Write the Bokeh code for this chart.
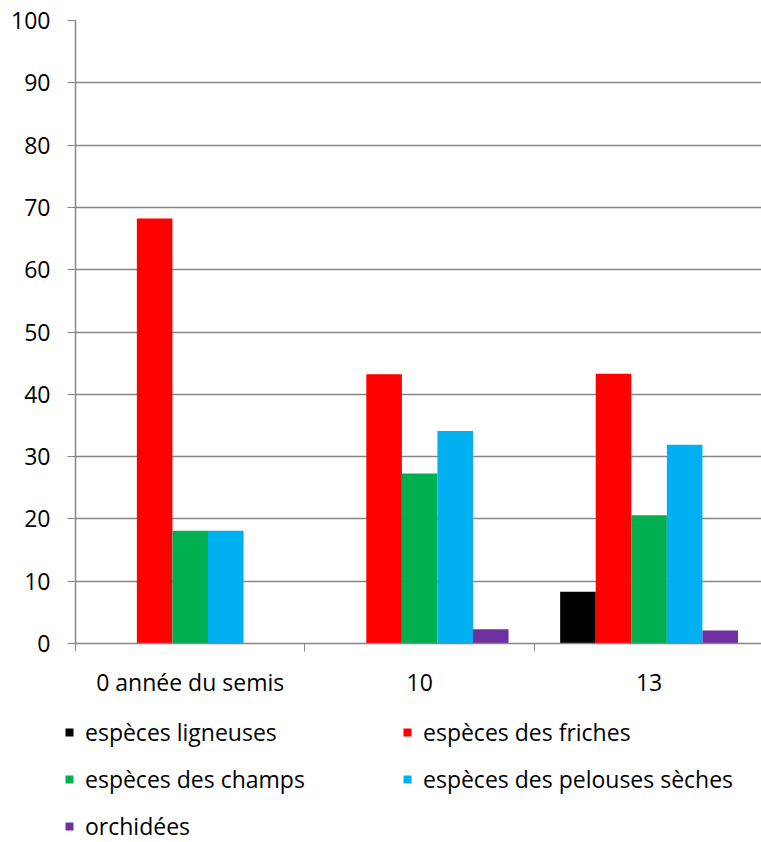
from bokeh.plotting import figure
from bokeh.models import ColumnDataSource, FixedTicker, Legend, LegendItem, Range1d
from bokeh.transform import dodge
from bokeh.embed import file_html
from bokeh.resources import INLINE

categories = ["0 année du semis", "10", "13"]
series_names = ["espèces ligneuses", "espèces des friches", "espèces des champs",
                "espèces des pelouses sèches", "orchidées"]
ligneuses = [0, 0, 8.3]
friches = [68.2, 43.2, 43.3]
champs = [18.1, 27.3, 20.6]
pelouses = [18.1, 34.1, 31.9]
orchidees = [0, 2.3, 2.1]
colors = ["#000000", "#FF0000", "#00B050", "#00B0F0", "#7030A0"]
y_ticks = list(range(0, 101, 10))

FONT = "Open Sans"
FS = "23px"

cat_pos = [i + 0.5 for i in range(len(categories))]
src = ColumnDataSource(dict(x=cat_pos, lig=ligneuses, fri=friches, cha=champs,
                            pel=pelouses, orc=orchidees))
fields = ["lig", "fri", "cha", "pel", "orc"]

p = figure(width=761, height=700, output_backend="svg", toolbar_location=None,
           x_range=Range1d(0, 2.99), y_range=Range1d(0, 100),
           min_border_left=75, min_border_right=0, min_border_top=20, min_border_bottom=55)
p.outline_line_color = None

bw = 0.155
for k, (f, c) in enumerate(zip(fields, colors)):
    off = (k - 2) * bw
    p.vbar(x=dodge("x", off), top=f, width=bw, bottom=0, source=src,
           fill_color=c, line_color=None)

# axes
p.yaxis.ticker = FixedTicker(ticks=y_ticks, minor_ticks=[])
p.yaxis.axis_line_color = "#868686"
p.yaxis.major_tick_line_color = "#868686"
p.yaxis.major_tick_out = 8
p.yaxis.major_tick_in = 0
p.yaxis.minor_tick_line_color = None
p.yaxis.major_label_standoff = 17
p.yaxis.major_label_text_font = FONT
p.yaxis.major_label_text_font_size = FS
p.yaxis.major_label_text_color = "black"

p.xaxis.ticker = FixedTicker(ticks=cat_pos, minor_ticks=[0, 1, 2, 3])
p.xaxis.major_label_overrides = {cat_pos[i]: categories[i] for i in range(len(categories))}
p.xaxis.axis_line_color = "#868686"
p.xaxis.major_tick_line_color = None
p.xaxis.minor_tick_line_color = "#868686"
p.xaxis.minor_tick_out = 8
p.xaxis.minor_tick_in = 0
p.xaxis.major_label_standoff = 14
p.xaxis.major_label_text_font = FONT
p.xaxis.major_label_text_font_size = FS
p.xaxis.major_label_text_color = "black"
p.axis.axis_line_width = 1.5

p.xgrid.grid_line_color = None
p.ygrid.ticker = FixedTicker(ticks=y_ticks)
p.ygrid.grid_line_color = "#868686"
p.ygrid.grid_line_width = 1.5

# legend figure (legend only; its proxy bars have zero height)
lf = figure(width=761, height=142, output_backend="svg", toolbar_location=None,
            x_range=Range1d(0, 1), y_range=Range1d(0, 1),
            min_border_left=0, min_border_right=0, min_border_top=0, min_border_bottom=0)
lf.outline_line_color = None
lf.axis.visible = False
lf.grid.visible = False
rends = {}
for name, c in zip(series_names, colors):
    proxy = ColumnDataSource(dict(x=[0.5], top=[0]))
    rends[name] = lf.vbar(x="x", top="top", bottom=0, width=0.1, source=proxy,
                          fill_color=c, line_color=None)
order = [0, 2, 4, 1, 3]  # column-major fill -> row-major appearance
items = [LegendItem(label=series_names[i], renderers=[rends[series_names[i]]]) for i in order]
legend = Legend(items=items, nrows=3, location=(64, 0),
                glyph_width=10, glyph_height=10, label_standoff=11,
                label_width=302, label_height=20, spacing=15, padding=0, margin=0,
                label_text_font=FONT, label_text_font_size=FS, label_text_color="black",
                border_line_color=None, background_fill_alpha=0)
lf.add_layout(legend, "center")

open("out.html", "w").write(file_html([p, lf], INLINE))
